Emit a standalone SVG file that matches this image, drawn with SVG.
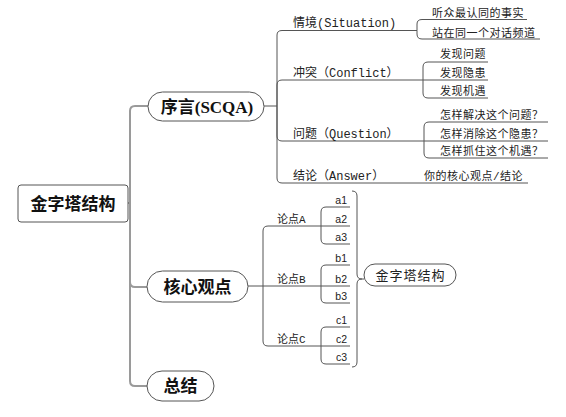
<svg xmlns="http://www.w3.org/2000/svg" width="566" height="417" viewBox="0 0 566 417">
<style>
.bg{fill:#fff}
.trunk{fill:none;stroke:#9a9a9a;stroke-width:2}
.ln{fill:none;stroke:#555;stroke-width:1}
.box{fill:#fff;stroke:#555;stroke-width:1}
.main{font-family:"Liberation Serif","Noto Sans CJK SC",serif;font-weight:bold;font-size:17px;fill:#111;text-anchor:middle}
.sub{font-family:"Liberation Mono","Noto Sans CJK SC",monospace;font-size:12px;fill:#222}
.leaf{font-family:"Liberation Mono","Noto Sans CJK SC",monospace;font-size:11px;letter-spacing:0.5px;fill:#222}
.pt{font-family:"Liberation Mono","Noto Sans CJK SC",monospace;font-size:11px;fill:#222}
.ab{font-family:"Liberation Sans",sans-serif;font-size:10.5px;fill:#222;text-anchor:end}
.py{font-family:"Noto Sans CJK SC",sans-serif;font-size:13px;letter-spacing:1px;fill:#222;text-anchor:middle}
</style>
<rect class="bg" x="0" y="0" width="566" height="417"/>
<g id="connectors">
  <path class="trunk" d="M128 203 H130 M130 203 V111 Q130 106 135 106 H148 M130 203 V282 Q130 287 135 287 H147 M130 203 V381 Q130 386 135 386 H147"/>
  <path class="ln" d="M264 106 H277 M277 106 V35 Q277 30.5 282 30.5 H417 M277 106 V85 Q277 80 282 80 H423 M277 106 V136 Q277 141 282 141 H424 M277 106 V178 Q277 183 282 183 H528"/>
  <path class="ln" d="M417 30.5 V24 Q417 19.5 422 19.5 H527 M417 30.5 V34 Q417 39 422 39 H540"/>
  <path class="ln" d="M423 80 V67 Q423 62 428 62 H488 M423 80 H488 M423 80 V93 Q423 98 428 98 H488"/>
  <path class="ln" d="M424 141 V127 Q424 122 429 122 H548 M424 141 H548 M424 141 V153 Q424 158 429 158 H548"/>
  <path class="ln" d="M248 286 H263 M263 286 V231 Q263 226 268 226 H321 M263 286 H321 M263 286 V341 Q263 346 268 346 H321"/>
  <path class="ln" d="M321 226 V212 Q321 207 326 207 H350 M321 226 H350 M321 226 V239 Q321 244 326 244 H350"/>
  <path class="ln" d="M321 286 V270 Q321 265 326 265 H350 M321 286 H350 M321 286 V298 Q321 303 326 303 H350"/>
  <path class="ln" d="M321 346 V332 Q321 327 326 327 H350 M321 346 H350 M321 346 V359 Q321 364 326 364 H350"/>
  <path class="ln" d="M352 191 Q357 191 357 196 V274 Q357 279 362 279 H364 M362 279 Q357 279 357 284 V362 Q357 367 352 367"/>
</g>
<g id="root">
  <rect class="box" x="18" y="185" width="110" height="37" rx="3"/>
  <text class="main" x="73" y="210">金字塔结构</text>
</g>
<g id="preface">
  <rect class="box" x="148" y="92" width="116" height="29" rx="14.5"/>
  <text class="main" x="207" y="112.5">序言(SCQA)</text>
</g>
<g id="core">
  <rect class="box" x="147" y="271" width="101" height="31" rx="15.5"/>
  <text class="main" x="197.5" y="292.5">核心观点</text>
</g>
<g id="summary">
  <rect class="box" x="147" y="371" width="67" height="30" rx="15"/>
  <text class="main" x="180.5" y="392">总结</text>
</g>
<g id="situation">
  <text class="sub" x="293" y="27">情境(Situation)</text>
  <text class="leaf" x="432" y="17">听众最认同的事实</text>
  <text class="leaf" x="432" y="36.5">站在同一个对话频道</text>
</g>
<g id="conflict">
  <text class="sub" x="293" y="77">冲突（Conflict）</text>
  <text class="leaf" x="440" y="58">发现问题</text>
  <text class="leaf" x="440" y="77">发现隐患</text>
  <text class="leaf" x="440" y="95">发现机遇</text>
</g>
<g id="question">
  <text class="sub" x="293" y="137.5">问题（Question）</text>
  <text class="leaf" x="440" y="118.5">怎样解决这个问题？</text>
  <text class="leaf" x="440" y="137.5">怎样消除这个隐患？</text>
  <text class="leaf" x="440" y="155">怎样抓住这个机遇？</text>
</g>
<g id="answer">
  <text class="sub" x="293" y="180">结论（Answer）</text>
  <text class="leaf" x="424" y="180">你的核心观点/结论</text>
</g>
<g id="pointA">
  <text class="pt" x="277" y="222.5">论点A</text>
  <text class="ab" x="347" y="203.5">a1</text>
  <text class="ab" x="347" y="222.5">a2</text>
  <text class="ab" x="347" y="241">a3</text>
</g>
<g id="pointB">
  <text class="pt" x="277" y="282.5">论点B</text>
  <text class="ab" x="347" y="261.5">b1</text>
  <text class="ab" x="347" y="282.5">b2</text>
  <text class="ab" x="347" y="300">b3</text>
</g>
<g id="pointC">
  <text class="pt" x="277" y="342.5">论点C</text>
  <text class="ab" x="347" y="323.5">c1</text>
  <text class="ab" x="347" y="342.5">c2</text>
  <text class="ab" x="347" y="361">c3</text>
</g>
<g id="pyramid">
  <rect class="box" x="364" y="264" width="92" height="22" rx="11"/>
  <text class="py" x="410.5" y="279.5">金字塔结构</text>
</g>
</svg>
